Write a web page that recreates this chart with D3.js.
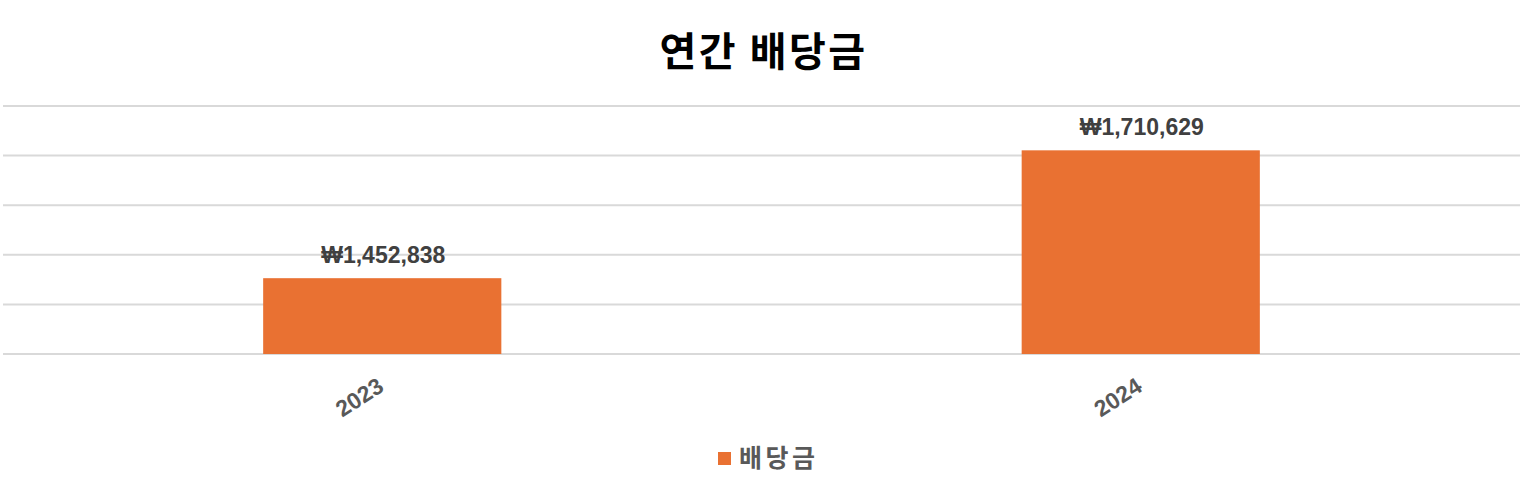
<!DOCTYPE html>
<html>
<head>
<meta charset="utf-8">
<script src="https://cdn.jsdelivr.net/npm/d3@7"></script>
<style>
  body { margin: 0; background: #fff; }
</style>
</head>
<body>
<figure style="margin:0"></figure>
<script>
const years = ['2023', '2024']
const dividends = [1452838, 1710629]
const yTicks = [1300000, 1400000, 1500000, 1600000, 1700000, 1800000]
const title = '연간 배당금'
const seriesName = '배당금'

const W = 1531, H = 478
const margin = {top: 106, right: 11, bottom: 124, left: 3}
const innerW = W - margin.left - margin.right,
      innerH = H - margin.top - margin.bottom
const krFont = '"Noto Sans CJK KR", sans-serif',
      latinFont = '"Liberation Sans", Arial, "Noto Sans CJK KR", sans-serif'

const svg = d3.select('figure')
  .append('svg')
    .attr('width', W)
    .attr('height', H)

const x = d3.scaleBand().domain(years).range([0, innerW]).paddingInner(0.686).paddingOuter(0.343)
const y = d3.scaleLinear().domain([1300000, 1800000]).range([innerH, 0])

const g = svg.append('g')
    .attr('transform', 'translate(' + margin.left + ',' + margin.top + ')')

// gridlines
g.append('g')
  .selectAll('line')
  .data(yTicks)
  .join('line')
    .attr('x1', 0)
    .attr('x2', innerW)
    .attr('y1', d => y(d))
    .attr('y2', d => y(d))
    .attr('stroke', '#d9d9d9')
    .attr('stroke-width', 2)

// bars
g.append('g')
  .selectAll('rect')
  .data(dividends)
  .join('rect')
    .attr('x', (d, i) => x(years[i]))
    .attr('y', d => y(d))
    .attr('width', x.bandwidth())
    .attr('height', d => innerH - y(d))
    .attr('fill', '#e97132')

// value labels
const fmt = d3.format(',')
g.append('g')
  .selectAll('text')
  .data(dividends)
  .join('text')
    .attr('x', (d, i) => x(years[i]) + x.bandwidth() / 2 + 1)
    .attr('y', d => y(d) - 15)
    .attr('text-anchor', 'middle')
    .style('font-family', latinFont)
    .style('font-size', '23px')
    .style('font-weight', 'bold')
    .attr('fill', '#404040')
    .text(d => '₩' + fmt(d))

// x axis labels (rotated)
const xAxis = g.append('g')
    .attr('transform', 'translate(0,' + innerH + ')')
    .call(d3.axisBottom(x).tickSize(0).tickPadding(0))
xAxis.select('.domain').remove()
xAxis.selectAll('text')
    .style('font-family', latinFont)
    .style('font-size', '23px')
    .style('font-weight', 'bold')
    .attr('fill', '#595959')
    .attr('text-anchor', 'end')
    .attr('dy', 0)
    .attr('transform', 'translate(3,36) rotate(-33)')

// title
svg.append('text')
    .attr('x', W / 2 - 2)
    .attr('y', 66)
    .attr('text-anchor', 'middle')
    .style('font-family', krFont)
    .style('font-size', '40px')
    .style('font-weight', 'bold')
    .attr('letter-spacing', 2.5)
    .attr('fill', '#000')
    .text(title)

// legend
const legend = svg.append('g').attr('transform', 'translate(718,452)')
legend.append('rect')
    .attr('width', 13)
    .attr('height', 13)
    .attr('fill', '#e97132')
legend.append('text')
    .attr('x', 21)
    .attr('y', 15)
    .style('font-family', krFont)
    .style('font-size', '25px')
    .style('font-weight', 'bold')
    .attr('letter-spacing', 3.5)
    .attr('fill', '#595959')
    .text(seriesName)
</script>
</body>
</html>
